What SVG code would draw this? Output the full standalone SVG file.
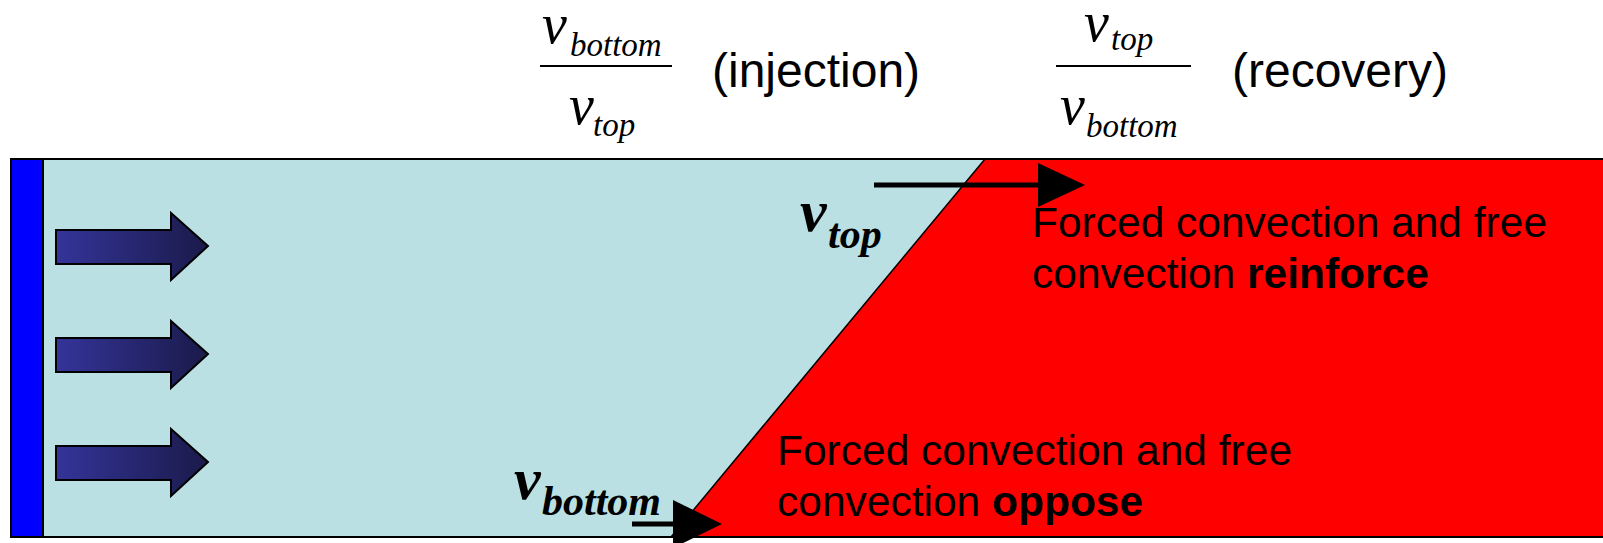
<svg xmlns="http://www.w3.org/2000/svg" width="1603" height="543" viewBox="0 0 1603 543">
<style>
.sans{font-family:"Liberation Sans",Arial,sans-serif;fill:#000}
.ser{font-family:"Liberation Serif","Times New Roman",serif;font-style:italic;fill:#000}
.bi{font-family:"Liberation Serif","Times New Roman",serif;font-style:italic;font-weight:bold;fill:#000}
.flow{fill:url(#g);stroke:#000;stroke-width:2}
.vel{stroke:#000;stroke-width:5;fill:none}
</style>
<defs>
<linearGradient id="g" x1="0" y1="0" x2="1" y2="0">
<stop offset="0" stop-color="#34349a"/>
<stop offset="1" stop-color="#1a1a4a"/>
</linearGradient>
</defs>
<g id="channel">
<rect x="11" y="159" width="1600" height="378" fill="#bae0e3"/>
<polygon points="985,159 1610,159 1610,537 671,537" fill="#ff0000"/>
<line x1="985" y1="159" x2="671" y2="537" stroke="#000" stroke-width="1.5"/>
<rect x="11" y="159" width="1600" height="378" fill="none" stroke="#000" stroke-width="2"/>
</g>
<g id="inlet">
<rect x="11" y="159" width="32" height="378" fill="#0000ff" stroke="#000" stroke-width="2"/>
</g>
<g id="flow-arrows">
<polygon class="flow" points="56,230 171,230 171,213 208,246 171,280 171,264 56,264"/>
<polygon class="flow" points="56,338 171,338 171,321 208,354 171,388 171,372 56,372"/>
<polygon class="flow" points="56,446 171,446 171,429 208,462 171,496 171,480 56,480"/>
</g>
<g id="connectors">
<line class="vel" x1="874" y1="185" x2="1040" y2="185"/>
<polygon points="1038,163 1085,185 1038,207" fill="#000"/>
<line class="vel" x1="632" y1="524" x2="675" y2="524" stroke-width="6"/>
<polygon points="673,500 722,524 673,548" fill="#000"/>
</g>
<g id="ratio-injection">
<text class="ser" x="542" y="43" font-size="56">v</text>
<text class="ser" x="570" y="56" font-size="33">bottom</text>
<line x1="540" y1="66" x2="672" y2="66" stroke="#000" stroke-width="2"/>
<text class="ser" x="569" y="124" font-size="56">v</text>
<text class="ser" x="593" y="136" font-size="33">top</text>
<text class="sans" x="712" y="87" font-size="48">(injection)</text>
</g>
<g id="ratio-recovery">
<text class="ser" x="1084" y="41" font-size="56">v</text>
<text class="ser" x="1111" y="50" font-size="33">top</text>
<line x1="1056" y1="66" x2="1191" y2="66" stroke="#000" stroke-width="2"/>
<text class="ser" x="1060" y="124" font-size="56">v</text>
<text class="ser" x="1086" y="137" font-size="33">bottom</text>
<text class="sans" x="1232" y="87" font-size="48">(recovery)</text>
</g>
<g id="label-vtop">
<text class="bi" x="800" y="231" font-size="60">v</text>
<text class="bi" x="828" y="248" font-size="42">top</text>
</g>
<g id="label-vbottom">
<text class="bi" x="514" y="499" font-size="60">v</text>
<text class="bi" x="542" y="515" font-size="42">bottom</text>
</g>
<g id="text-reinforce">
<text class="sans" x="1032" y="237" font-size="42.5">Forced convection and free</text>
<text class="sans" x="1032" y="288" font-size="42.5">convection <tspan font-weight="bold">reinforce</tspan></text>
</g>
<g id="text-oppose">
<text class="sans" x="777" y="465" font-size="42.5">Forced convection and free</text>
<text class="sans" x="777" y="516" font-size="42.5">convection <tspan font-weight="bold">oppose</tspan></text>
</g>
</svg>
